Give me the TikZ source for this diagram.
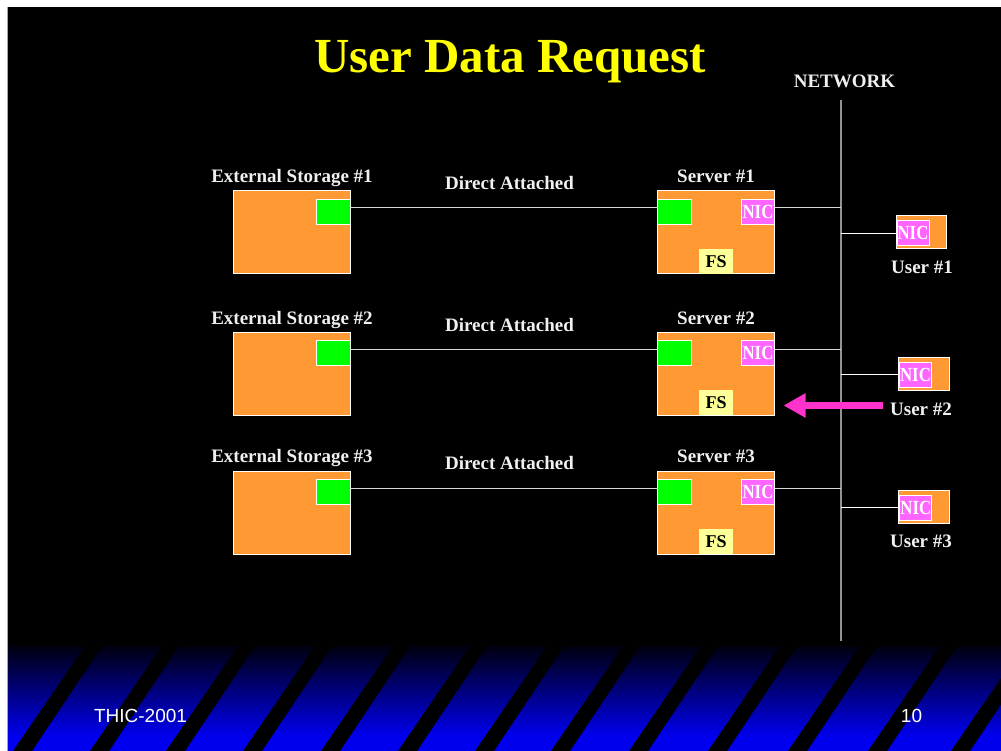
\documentclass[tikz,border=0pt]{standalone}
\usepackage{fontspec}
\setmainfont{Liberation Serif}
\newfontfamily\footfont{Liberation Sans}
\usetikzlibrary{arrows.meta}

\definecolor{boxorange}{RGB}{255,153,51}
\definecolor{portgreen}{RGB}{0,255,0}
\definecolor{nicpink}{RGB}{255,102,255}
\definecolor{fsyellow}{RGB}{255,255,153}
\definecolor{titleyellow}{RGB}{255,255,0}
\definecolor{arrowpink}{RGB}{255,51,204}
\definecolor{bannerblue}{RGB}{0,0,238}
\definecolor{wiregray}{RGB}{215,215,215}

% blue footer band, dark at the top
\pgfdeclareverticalshading{bannerfade}{100bp}{color(0bp)=(bannerblue); color(32bp)=(bannerblue); color(75bp)=(black!94!bannerblue); color(100bp)=(black!94!bannerblue)}

\tikzset{
  box/.style={draw=white, line width=1pt, fill=boxorange, inner sep=0pt, outer sep=0pt},
  port/.style={draw=white, line width=0.8pt, fill=portgreen, minimum width=34pt, minimum height=25pt, inner sep=0pt, outer sep=0pt},
  nic/.style={draw=white, line width=0.8pt, fill=nicpink, text=white, font=\fontsize{20}{20}\selectfont\bfseries, minimum width=33pt, minimum height=25pt, inner sep=0pt, outer sep=0pt},
  fsbox/.style={fill=fsyellow, text=black, font=\fontsize{18}{18}\selectfont\bfseries, minimum width=34pt, minimum height=25pt, inner sep=0pt, outer sep=0pt},
  lbl/.style={text=white!94!black, font=\fontsize{19}{19}\selectfont\bfseries, anchor=base, inner sep=0pt},
  link/.style={draw=wiregray, line width=1pt},
  foot/.style={text=white, font=\footfont\fontsize{19}{19}\selectfont, inner sep=0pt}
}
\newcommand{\nictext}{\scalebox{0.84}[1]{NIC}}

\begin{document}
\begin{tikzpicture}[x=1pt,y=-1pt]
\useasboundingbox (0,0) rectangle (1001,751);
\fill[white] (0,0) rectangle (1001,751);
\fill[black] (8,7) rectangle (1001,751);
\draw[gray!70, line width=1pt] (7.5,7) -- (7.5,751);

% footer band with slanted stripes
\begin{scope}
\clip (8,646) rectangle (1001,751);
\shade[shading=bannerfade] (8,646) rectangle (1001,751);
\foreach \s in {85,162,238,315,393,470,547,623,701,780,860,940,1023}
  \fill[black] (\s,646) -- (\s+17,646) -- (\s-53,751) -- (\s-72,751) -- cycle;
\end{scope}
\node[foot] (event) at (140.5,716) {THIC-2001};
\node[foot] (slideno) at (911.5,716) {10};

\node[text=titleyellow, font=\fontsize{49}{49}\selectfont\bfseries, anchor=base, inner sep=0pt] (heading) at (510,73) {User Data Request};

% network backbone
\node[lbl] (netlbl) at (844.5,88) {NETWORK};
\coordinate (nettop) at (841,100);
\coordinate (netbot) at (841,641);
\draw[gray!85, line width=1.5pt] (nettop) -- (netbot);

% row 1
\node[lbl] (sto1lbl) at (292,183) {External Storage \#1};
\node[box, minimum width=117pt, minimum height=83pt] (sto1) at (292,232.5) {};
\node[port] (sto1port) at (333.5,211.5) {};
\node[lbl] (link1lbl) at (509.5,190) {Direct Attached};
\node[lbl] (srv1lbl) at (716,183) {Server \#1};
\node[box, minimum width=117pt, minimum height=83pt] (srv1) at (716,232.5) {};
\node[port] (srv1port) at (674.5,211.5) {};
\node[nic] (nic1) at (758,211.5) {\nictext};
\node[fsbox] (fs1) at (716,261.5) {FS};
\node[box, minimum width=50pt, minimum height=33pt] (usr1) at (921,232.5) {};
\node[nic, minimum width=32pt] (unic1) at (913,233.3) {\nictext};
\node[lbl] (usr1lbl) at (922,273) {User \#1};
\draw[link] ([yshift=3.5pt]sto1port.east) -- ([yshift=3.5pt]srv1port.west);
\draw[link] ([yshift=3.5pt]nic1.east) -- ([yshift=3.5pt]nic1.east -| nettop);
\draw[link, draw=white] (unic1.west) -- (unic1.west -| nettop);

% row 2
\node[lbl] (sto2lbl) at (292,324) {External Storage \#2};
\node[box, minimum width=117pt, minimum height=83pt] (sto2) at (292,373.5) {};
\node[port] (sto2port) at (333.5,352.5) {};
\node[lbl] (link2lbl) at (509.5,331) {Direct Attached};
\node[lbl] (srv2lbl) at (716,324) {Server \#2};
\node[box, minimum width=117pt, minimum height=83pt] (srv2) at (716,373.5) {};
\node[port] (srv2port) at (674.5,352.5) {};
\node[nic] (nic2) at (758,352.5) {\nictext};
\node[fsbox] (fs2) at (716,402.5) {FS};
\node[box, minimum width=51pt, minimum height=33pt] (usr2) at (923.5,374) {};
\node[nic, minimum width=32pt] (unic2) at (915.5,374.5) {\nictext};
\node[lbl] (usr2lbl) at (921,415) {User \#2};
\draw[link] ([yshift=3.5pt]sto2port.east) -- ([yshift=3.5pt]srv2port.west);
\draw[link] ([yshift=3.5pt]nic2.east) -- ([yshift=3.5pt]nic2.east -| nettop);
\draw[link, draw=white] (unic2.west) -- (unic2.west -| nettop);

% row 3
\node[lbl] (sto3lbl) at (292,462) {External Storage \#3};
\node[box, minimum width=117pt, minimum height=83pt] (sto3) at (292,512.5) {};
\node[port] (sto3port) at (333.5,491.5) {};
\node[lbl] (link3lbl) at (509.5,469) {Direct Attached};
\node[lbl] (srv3lbl) at (716,462) {Server \#3};
\node[box, minimum width=117pt, minimum height=83pt] (srv3) at (716,512.5) {};
\node[port] (srv3port) at (674.5,491.5) {};
\node[nic] (nic3) at (758,491.5) {\nictext};
\node[fsbox] (fs3) at (716,541.5) {FS};
\node[box, minimum width=51pt, minimum height=33pt] (usr3) at (923.7,507.3) {};
\node[nic, minimum width=32pt] (unic3) at (915.8,507.5) {\nictext};
\node[lbl] (usr3lbl) at (921,547) {User \#3};
\draw[link] ([yshift=3.5pt]sto3port.east) -- ([yshift=3.5pt]srv3port.west);
\draw[link] ([yshift=3.5pt]nic3.east) -- ([yshift=3.5pt]nic3.east -| nettop);
\draw[link, draw=white] (unic3.west) -- (unic3.west -| nettop);

% request from user 2
\coordinate (req) at (883,405.5);
\draw[arrowpink, line width=6.5pt, -{Triangle[length=22pt,width=23pt]}, shorten >=9pt] (req) -- (req -| srv2.east);
\end{tikzpicture}
\end{document}
